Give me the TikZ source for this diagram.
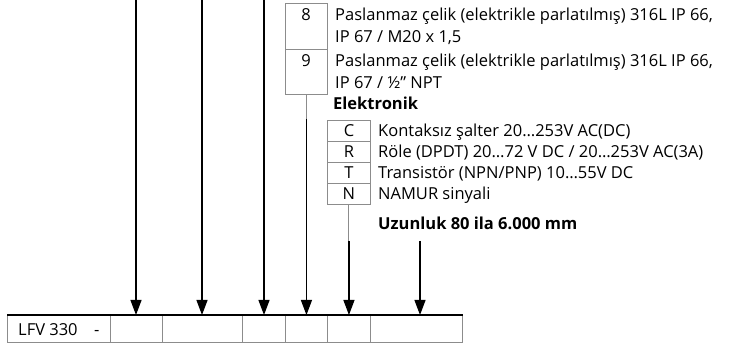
\documentclass[tikz,border=0pt]{standalone}
\usepackage{fontspec}
\setmainfont{Open Sans}
\usetikzlibrary{arrows.meta}
\definecolor{boxgrey}{gray}{0.55}

\begin{document}
\begin{tikzpicture}[x=1pt,y=-1pt]
        \tikzset{cell/.style={draw=boxgrey,line width=0.9pt,inner sep=0pt,anchor=north west},
                 txt/.style={inner sep=0pt,anchor=base west,font=\fontsize{16.5}{18}\selectfont},
                 head/.style={txt,font=\fontsize{16.5}{18}\selectfont\bfseries},
                 feed/.style={line width=1.2pt,-{Triangle[length=15pt,width=11pt]}}};
        \useasboundingbox (0,0) rectangle (736,347);
        % housing options 8 / 9
        \node[cell,minimum width=42pt,minimum height=46pt] (b8) at (285,3) {};
        \node[cell,minimum width=42pt,minimum height=45pt] (b9) at (285,49) {};
        \node[txt,anchor=base] (n8) at (306,21) {8};
        \node[txt,anchor=base] (n9) at (306,67) {9};
        \node[txt] (t8a) at (335,21) {Paslanmaz çelik (elektrikle parlatılmış) 316L IP 66,};
        \node[txt] (t8b) at (335,43) {IP 67 / M20 x 1,5};
        \node[txt] (t9a) at (335,67) {Paslanmaz çelik (elektrikle parlatılmış) 316L IP 66,};
        \node[txt] (t9b) at (335,89) {IP 67 / ½\char"0022\ NPT};
        % electronics
        \node[head] (elek) at (333,110) {Elektronik};
        \foreach \n/\y/\d in {C/120/{Kontaksız şalter 20…253V AC(DC)},
                              R/141/{Röle (DPDT) 20…72 V DC / 20…253V AC(3A)},
                              T/162/{Transistör (NPN/PNP) 10…55V DC},
                              N/183/{NAMUR sinyali}} {
            \node[cell,minimum width=43pt,minimum height=21pt] (e\n) at (327,\y) {};
            \node[txt,anchor=base] (l\n) at ([yshift=-6pt]e\n.center) {\n};
            \node[txt] (d\n) at ([yshift=-6pt]e\n.center -| 378,0) {\d};
        }
        \node[head] (len) at (378,230) {Uzunluk 80 ila 6.000 mm};
        % order code row
        \foreach \n/\a/\b in {0/7/110,1/110/162,2/162/242,3/242/285,4/285/327,5/327/370,6/370/462}
            \node[cell,minimum width={(\b-\a)*1pt},minimum height=27pt] (c\n) at (\a,315) {};
        \node[txt] (code) at (18,335) {LFV 330};
        \node[txt] (dash) at (94,335) {-};
        \draw[line width=1.2pt] (c0.north west) -- (c6.north east);
        % arrows
        \coordinate (s1) at (136,0);
        \coordinate (s2) at (202,0);
        \coordinate (s3) at (264,0);
        \coordinate (s6) at (420,241);
        \draw[boxgrey,line width=1pt] (b9.south) -- ++(0,24) coordinate (s4);
        \draw[boxgrey,line width=1pt] (eN.south) -- (eN.south |- s6) coordinate (s5);
        \draw[feed] (s1) -- (s1 |- c1.north);
        \draw[feed] (s2) -- (s2 |- c2.north);
        \draw[feed] (s3) -- (s3 |- c3.north);
        \draw[feed] (s4) -- (s4 |- c4.north);
        \draw[feed] (s5) -- (s5 |- c5.north);
        \draw[feed] (s6) -- (s6 |- c6.north);
\end{tikzpicture}
\end{document}
